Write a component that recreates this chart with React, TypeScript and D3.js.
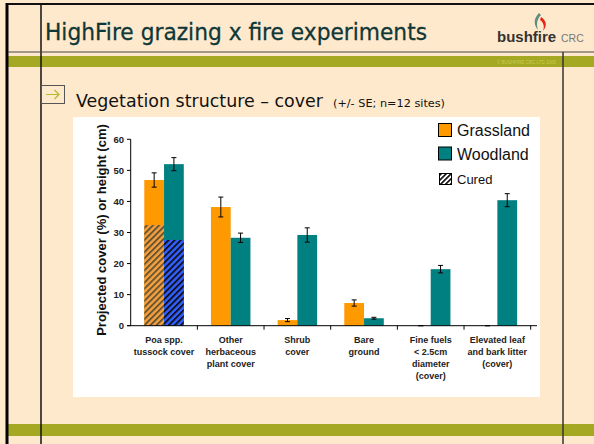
import React from "react";
import * as d3 from "d3";

const categoryLines = [
  ["Poa spp.", "tussock cover"],
  ["Other", "herbaceous", "plant cover"],
  ["Shrub", "cover"],
  ["Bare", "ground"],
  ["Fine fuels", "< 2.5cm", "diameter", "(cover)"],
  ["Elevated leaf", "and bark litter", "(cover)"],
];
const categories = categoryLines.map((l) => l.join(" "));
const seriesNames = ["Grassland", "Woodland"];
const grassland = [46.9, 38.2, 1.8, 7.3, 0, 0];
const grasslandSE = [2.3, 3.2, 0.5, 1.0, 0, 0];
const woodland = [52.0, 28.3, 29.2, 2.4, 18.2, 40.4];
const woodlandSE = [2.1, 1.5, 2.3, 0.3, 1.2, 2.1];
const curedGrassland = [32.4, 0, 0, 0, 0, 0];
const curedWoodland = [27.6, 0, 0, 0, 0, 0];
const yTicks = [0, 10, 20, 30, 40, 50, 60];

const cream = "#FFE9CC";
const olive = "#A4A823";
const orange = "#FF9900";
const teal = "#008080";
const chartFont = "'Liberation Sans', Arial, sans-serif";
const slideFont = "'DejaVu Sans', Verdana, sans-serif";

const App = () => {
  const x0 = d3.scaleBand().domain(categories).range([130.7, 530.7]);
  const groupW = 39.5;
  const x1 = d3.scaleBand().domain(seriesNames).range([0, groupW]);
  const y = d3.scaleLinear().domain([0, 60]).range([325.7, 139.3]);
  const barX = (cat, s) => x0(cat) + x0.bandwidth() / 2 - groupW / 2 + x1(s);

  const series = [
    { name: "Grassland", vals: grassland, se: grasslandSE, cured: curedGrassland, color: orange, hatch: "url(#hatchGrass)" },
    { name: "Woodland", vals: woodland, se: woodlandSE, cured: curedWoodland, color: teal, hatch: "url(#hatchWood)" },
  ];

  return (
    <svg width={594} height={444} style={{ position: "absolute", left: 0, top: 0 }}>
      <defs>
        <pattern id="hatchGrass" width={4.3} height={4.3} patternUnits="userSpaceOnUse" patternTransform="rotate(45)">
          <rect width={4.3} height={4.3} fill="#F7A040" />
          <rect width={1.9} height={4.3} fill="#665530" />
        </pattern>
        <pattern id="hatchWood" width={4.3} height={4.3} patternUnits="userSpaceOnUse" patternTransform="rotate(45)">
          <rect width={4.3} height={4.3} fill="#3060FF" />
          <rect width={1.9} height={4.3} fill="#101020" />
        </pattern>
        <pattern id="hatchLegend" width={3.5} height={3.5} patternUnits="userSpaceOnUse" patternTransform="rotate(45)">
          <rect width={3.5} height={3.5} fill="#ffffff" />
          <rect width={1.7} height={3.5} fill="#111111" />
        </pattern>
      </defs>

      {/* slide background */}
      <rect width={594} height={444} fill={cream} />
      <rect x={8} y={56} width={586} height={11} fill={olive} />
      <rect x={8} y={424} width={586} height={12} fill={olive} />
      <line x1={6} x2={594} y1={4} y2={4} stroke="#111" strokeWidth={2} />
      <line x1={7} x2={7} y1={3} y2={444} stroke="#000" strokeWidth={3} />
      <line x1={41} x2={41} y1={4} y2={444} stroke="#111" strokeWidth={1.5} />
      <line x1={8} x2={594} y1={52} y2={52} stroke="#444" strokeWidth={1} />
      <line x1={563} x2={563} y1={52} y2={444} stroke="#333" strokeWidth={1.5} />
      <text x={497} y={63.5} fontSize={4.5} fill="#C9CC50" fontFamily={chartFont}>© BUSHFIRE CRC LTD 2006</text>

      {/* title */}
      <text x={45} y={40} fontSize={23} fill="#0E3838" stroke="#0E3838" strokeWidth={0.3} fontFamily={slideFont} textLength={382} lengthAdjust="spacingAndGlyphs">
        HighFire grazing x fire experiments
      </text>

      {/* logo */}
      <path d="M539,13 C534,18 533,24 538,30 C536,24 537,19 541,15 Z" fill="#5E8C7E" />
      <path d="M541,17 C547,21 547,26 543,31 C545,26 543,22 540,20 Z" fill="#E2231A" />
      <text x={497} y={42} fontSize={15} fontWeight="bold" fill="#333" fontFamily={chartFont}>bushfire</text>
      <text x={561} y={42} fontSize={10.5} fill="#777" fontFamily={chartFont}>CRC</text>

      {/* subtitle */}
      <rect x={41.5} y={85.5} width={23} height={18} fill="none" stroke="#555" strokeWidth={1} />
      <path d="M46,94.5 H59 M54.5,90 L59,94.5 L54.5,99" fill="none" stroke="#B5BB2A" strokeWidth={1.2} />
      <text x={76} y={107} fontSize={17} fill="#111" fontFamily={slideFont} textLength={247} lengthAdjust="spacingAndGlyphs">
        Vegetation structure – cover
      </text>
      <text x={333} y={107} fontSize={11} fill="#111" fontFamily={slideFont} textLength={112} lengthAdjust="spacingAndGlyphs">
        (+/- SE; n=12 sites)
      </text>

      {/* chart area */}
      <rect x={73} y={117} width={467} height={280} fill="#fff" />

      {series.map((s) =>
        categories.map((c, i) => (
          <g key={s.name + i}>
            <rect x={barX(c, s.name)} width={x1.bandwidth()} y={y(s.vals[i])} height={y(0) - y(s.vals[i])} fill={s.color} />
            {s.cured[i] > 0 && (
              <rect x={barX(c, s.name)} width={x1.bandwidth()} y={y(s.cured[i])} height={y(0) - y(s.cured[i])} fill={s.hatch} />
            )}
          </g>
        ))
      )}
      {series.map((s) =>
        categories.map((c, i) => {
          const cx = barX(c, s.name) + x1.bandwidth() / 2;
          const top = y(s.vals[i] + s.se[i]);
          const bot = y(s.vals[i] - s.se[i]);
          return (
            <g key={"e" + s.name + i} stroke="#000" strokeWidth={1}>
              <line x1={cx} x2={cx} y1={top} y2={bot} />
              <line x1={cx - 2.5} x2={cx + 2.5} y1={top} y2={top} />
              <line x1={cx - 2.5} x2={cx + 2.5} y1={bot} y2={bot} />
            </g>
          );
        })
      )}

      {/* axes */}
      <line x1={130.7} x2={130.7} y1={y(60)} y2={y(0)} stroke="#000" strokeWidth={1} />
      {yTicks.map((t) => (
        <g key={t}>
          <line x1={127} x2={130.7} y1={y(t)} y2={y(t)} stroke="#000" />
          <text x={124} y={y(t) + 3.3} textAnchor="end" fontSize={9.5} fontWeight="bold" fill="#222" fontFamily={chartFont}>
            {t}
          </text>
        </g>
      ))}
      <line x1={127} x2={537} y1={y(0)} y2={y(0)} stroke="#000" strokeWidth={1} />
      {categories.map((c) => (
        <line key={c} x1={x0(c) + x0.bandwidth()} x2={x0(c) + x0.bandwidth()} y1={y(0)} y2={y(0) + 4} stroke="#000" />
      ))}
      {categories.map((c, i) => (
        <text key={"l" + c} textAnchor="middle" fontSize={9} fontWeight="bold" fill="#222" fontFamily={chartFont}>
          {categoryLines[i].map((ln, j) => (
            <tspan key={j} x={x0(c) + x0.bandwidth() / 2} y={342.5 + j * 12}>
              {ln}
            </tspan>
          ))}
        </text>
      ))}
      <text transform="translate(106,230) rotate(-90)" textAnchor="middle" fontSize={13} fontWeight="bold" fill="#111" fontFamily={chartFont}>
        Projected cover (%) or height (cm)
      </text>

      {/* legend */}
      <rect x={438.5} y={123.5} width={13} height={13} fill={orange} stroke="#000" strokeWidth={1} />
      <text x={457} y={136} fontSize={16} fill="#111" fontFamily={chartFont}>Grassland</text>
      <rect x={438.5} y={147} width={13} height={13} fill={teal} stroke="#000" strokeWidth={1} />
      <text x={457} y={159.5} fontSize={16} fill="#111" fontFamily={chartFont}>Woodland</text>
      <rect x={439.5} y={173.5} width={12} height={11} fill="url(#hatchLegend)" stroke="#000" strokeWidth={1} />
      <text x={457} y={183.5} fontSize={13} fill="#111" fontFamily={chartFont}>Cured</text>
    </svg>
  );
};

export default App;
